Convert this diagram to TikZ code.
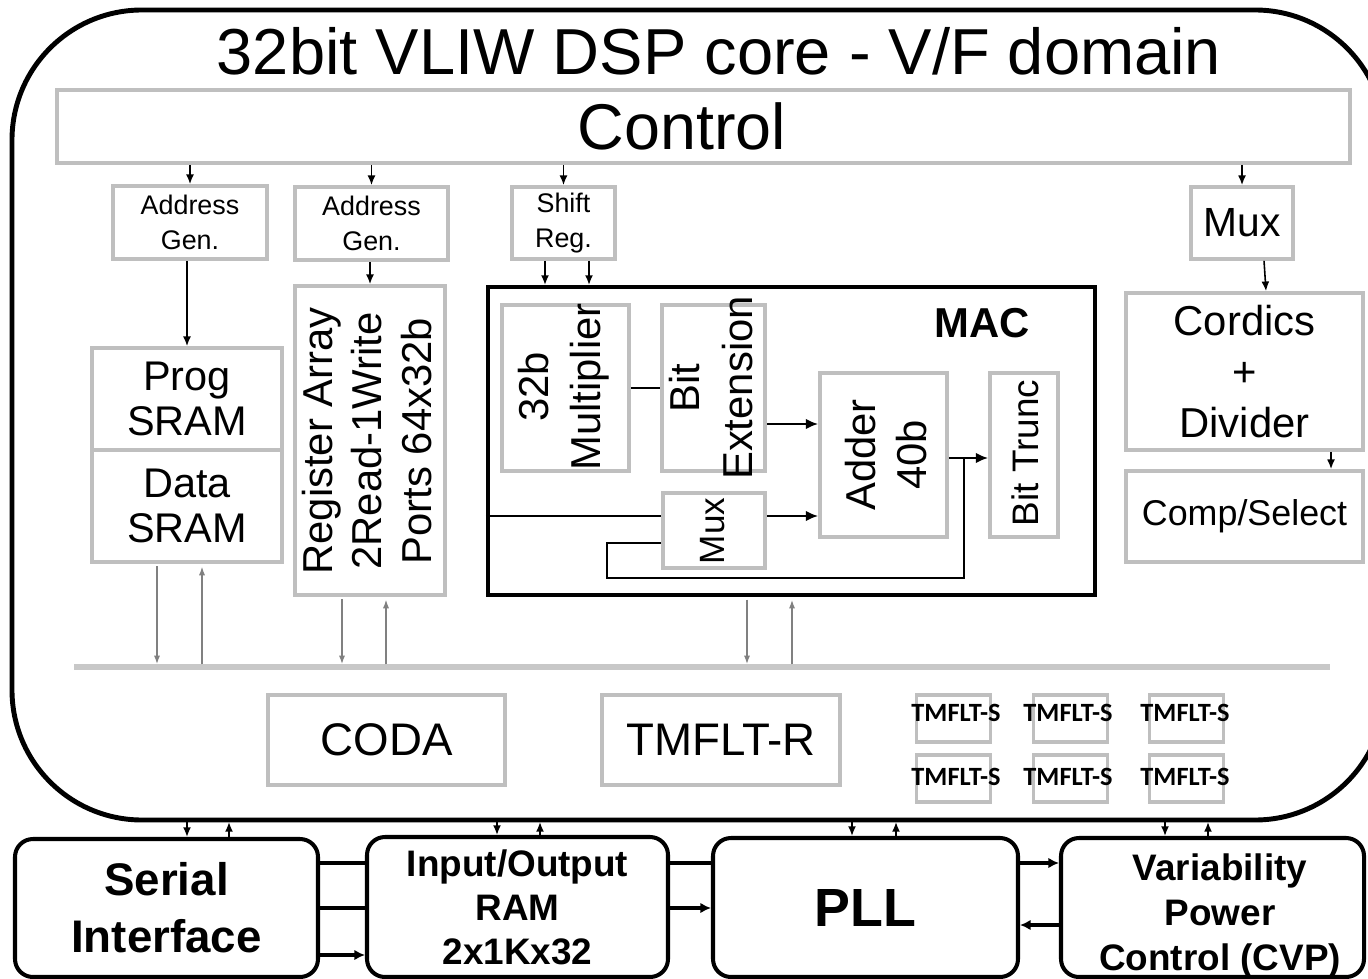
\documentclass[tikz,border=0pt]{standalone}
\usepackage{fontspec}
\setmainfont{Liberation Sans}
\newfontfamily\calibfam{Carlito}
\usetikzlibrary{arrows.meta,calc}
\newcommand\myfs[2]{\fontsize{#1pt}{#2pt}\selectfont}
\definecolor{boxgray}{RGB}{191,191,191}
\definecolor{busgray}{RGB}{200,200,200}
\definecolor{arrgray}{RGB}{128,128,128}
\begin{document}
\begin{tikzpicture}[x=0.02cm,y=-0.02cm,
  wh/.style 2 args={minimum width=#1*0.02cm, minimum height=#2*0.02cm},
  gbox/.style={draw=boxgray, line width=2.1pt, inner sep=0pt, fill=white},
  bbox/.style={draw=black, line width=2.3pt, rounded corners=0.36cm, inner sep=0pt},
  txt/.style={inner sep=0pt},
  arr/.style={line width=0.9pt, -{Latex[length=5.5pt,width=4.5pt]}},
  marr/.style={line width=1.2pt, -{Latex[length=7pt,width=6pt]}},
  mline/.style={line width=1.2pt},
  barr/.style={line width=2pt, -{Latex[length=6pt,width=6pt]}},
  bline/.style={line width=2pt},
  garr/.style={draw=arrgray, line width=0.9pt, shorten <=1.5pt, shorten >=1.5pt, -{Latex[length=5pt,width=3.5pt]}},
]
\useasboundingbox (0,0) rectangle (1368,979);
\clip (0,0) rectangle (1368,979);
\fill[white] (0,0) rectangle (1368,979);

% outer V/F domain
\draw[line width=2.8pt, rounded corners=2.6cm] (12,10) rectangle (1385,820);
\node[txt, anchor=base, font=\myfs{37}{40}] (title) at (719,75) {32bit VLIW DSP core - V/F domain};

% control
\node[gbox, wh={1293}{73}] (control) at (703.5,126.5) {};
\node[txt, font=\myfs{36.8}{40}] (controltxt) at (682,126) {Control};

% small boxes
\node[gbox, wh={154}{73}, align=center, font=\myfs{15.3}{19.8}] (ag1) at (190,222.5) {Address\\Gen.};
\node[gbox, wh={153}{73}, align=center, font=\myfs{15.3}{19.8}] (ag2) at (371.5,223.5) {Address\\Gen.};
\node[gbox, wh={103}{72}, align=center, font=\myfs{15.3}{19.8}] (shift) at (563.5,223) {Shift\\Reg.};
\node[gbox, wh={102}{72}, font=\myfs{23.2}{28}] (muxr) at (1242,223) {Mux};

% memories
\node[gbox, wh={190}{102}, align=center, font=\myfs{23.6}{25.5}] (prog) at (187,399) {Prog\\SRAM};
\node[gbox, wh={190}{112}, align=center, font=\myfs{23.6}{25.5}] (data) at (187,506) {Data\\SRAM};
\node[gbox, wh={150}{309}] (reg) at (370,440.5) {};
\node[txt, rotate=90, align=center, font=\myfs{23.8}{28.3}] (regtxt) at (367,441) {Register Array\\2Read-1Write\\Ports 64x32b};

% MAC
\node[draw, line width=2.3pt, inner sep=0pt, wh={607}{308}] (mac) at (791.5,441) {};
\node[txt, font=\bfseries\myfs{23.8}{28}] (mactxt) at (982,323) {MAC};
\node[gbox, wh={127}{166}] (mult) at (565.5,388) {};
\node[txt, rotate=90, align=center, font=\myfs{23.8}{29.5}] (multtxt) at (564,387) {32b\\Multiplier};
\node[gbox, wh={103}{166}] (bitext) at (713.5,388) {};
\node[txt, rotate=90, align=center, font=\myfs{23.8}{30}] (bittxt) at (711,388) {Bit\\Extension};
\node[gbox, wh={127}{164}] (adder) at (883.5,455) {};
\node[txt, rotate=90, align=center, font=\myfs{23.8}{29.5}] (addtxt) at (886,455) {Adder\\40b};
\node[gbox, wh={102}{75}] (muxm) at (714,530.5) {};
\node[txt, rotate=90, font=\myfs{20}{22}] (muxmtxt) at (713,531) {Mux};
\node[gbox, wh={68}{164}] (trunc) at (1024,455) {};
\node[txt, rotate=90, font=\myfs{21}{24}] (trunctxt) at (1025,453) {Bit Trunc};

% cordics
\node[gbox, wh={237}{157}, align=center, font=\myfs{23.8}{29}] (cord) at (1244.5,371.5) {Cordics\\+\\Divider};
\node[gbox, wh={237}{91}, font=\myfs{20.4}{24}] (comp) at (1244.5,516.5) {Comp/Select};

% control arrows
\draw[arr] (ag1.north |- control.south) -- (ag1.north);
\draw[arr] (ag2.north |- control.south) -- (ag2.north);
\draw[arr] (shift.north |- control.south) -- (shift.north);
\draw[arr] (muxr.north |- control.south) -- (muxr.north);
\draw[arr] (prog.north |- ag1.south) -- (prog.north);
\draw[arr] (reg.north |- ag2.south) -- (reg.north);
\coordinate (sr1) at (545,0);
\coordinate (sr2) at (589,0);
\draw[arr] (sr1 |- shift.south) -- (sr1 |- mac.north);
\draw[arr] (sr2 |- shift.south) -- (sr2 |- mac.north);
\draw[arr] ($(muxr.south)+(22,0)$) -- ($(cord.north)+(21.5,0)$);
\coordinate (cs) at (1331,0);
\draw[arr] (cs |- cord.south) -- (cs |- comp.north);

% MAC internals
\coordinate (y424) at (0,424);
\coordinate (y516) at (0,516);
\coordinate (lp1) at (607,543);
\coordinate (lp2) at (607,578);
\coordinate (jn) at (964,458);
\draw[mline] (mult.east) -- (bitext.west);
\draw[marr] (bitext.east |- y424) -- (adder.west |- y424);
\draw[marr] (muxm.east |- y516) -- (adder.west |- y516);
\draw[mline] (mac.west |- y516) -- (muxm.west |- y516);
\draw[mline] (muxm.west |- lp1) -- (lp1) -- (lp2) -| (jn);
\draw[marr] (adder.east |- jn) -- (trunc.west |- jn);

% bus
\coordinate (busL) at (74,667);
\coordinate (busR) at (1330,667);
\draw[busgray, line width=3.4pt] (busL) -- (busR);
\coordinate (g1) at (157,667);
\coordinate (g2) at (202,667);
\coordinate (g3) at (342,667);
\coordinate (g4) at (386,667);
\coordinate (g5) at (747,667);
\coordinate (g6) at (792,667);
\draw[garr] (g1 |- data.south) -- (g1);
\draw[garr] (g2) -- (g2 |- data.south);
\draw[garr] (g3 |- reg.south) -- (g3);
\draw[garr] (g4) -- (g4 |- reg.south);
\draw[garr] (g5 |- mac.south) -- (g5);
\draw[garr] (g6) -- (g6 |- mac.south);

% lower gray blocks
\node[gbox, wh={237}{90}, font=\myfs{26}{30}] (coda) at (386.5,740) {CODA};
\node[gbox, wh={238}{90}, font=\myfs{26}{30}] (tmr) at (721,740) {TMFLT-R};
\foreach \r/\by/\ty in {1/718.5/713, 2/778.5/777}{
  \foreach \c/\bx/\tx in {1/953.5/956, 2/1070.5/1068, 3/1186.5/1185}{
    \node[gbox, line width=1.8pt, wh={74}{47}] (ts\r\c) at (\bx,\by) {};
    \node[txt, font=\calibfam\bfseries\myfs{15}{17}] (tst\r\c) at (\tx,\ty) {TMFLT-S};
  }
}

% bottom blocks
\node[bbox, wh={303}{138}, align=center, font=\bfseries\myfs{26}{32.3}] (serial) at (166.5,908) {Serial\\Interface};
\node[bbox, wh={301}{140}, align=center, font=\bfseries\myfs{21}{25}] (io) at (517.5,907) {Input/Output\\RAM\\2x1Kx32};
\node[bbox, wh={305}{139}, font=\bfseries\myfs{30.6}{34}] (pll) at (865.5,907.5) {PLL};
\node[bbox, wh={303}{139}] (cvp) at (1212.5,907.5) {};
\node[txt, align=center, font=\bfseries\myfs{21}{25.5}] (cvptxt) at (1220,916) {Variability\\Power\\Control (CVP)};

% outer <-> bottom blocks
\coordinate (ob1) at (187,822);
\coordinate (ob2) at (229,822);
\coordinate (ob3) at (497,822);
\coordinate (ob4) at (540,822);
\coordinate (ob5) at (852,822);
\coordinate (ob6) at (896,822);
\coordinate (ob7) at (1165,822);
\coordinate (ob8) at (1208,822);
\draw[arr] (ob1) -- (ob1 |- serial.north);
\draw[arr] (ob2 |- serial.north) -- (ob2);
\draw[arr] (ob3) -- (ob3 |- io.north);
\draw[arr] (ob4 |- io.north) -- (ob4);
\draw[arr] (ob5) -- (ob5 |- pll.north);
\draw[arr] (ob6 |- pll.north) -- (ob6);
\draw[arr] (ob7) -- (ob7 |- cvp.north);
\draw[arr] (ob8 |- cvp.north) -- (ob8);

% block connectors
\coordinate (h1) at (0,863);
\coordinate (h2) at (0,908);
\coordinate (h3) at (0,955);
\coordinate (h4) at (0,925);
\draw[bline] (serial.east |- h1) -- (io.west |- h1);
\draw[bline] (serial.east |- h2) -- (io.west |- h2);
\draw[barr] (serial.east |- h3) -- (io.west |- h3);
\draw[bline] (io.east |- h1) -- (pll.west |- h1);
\draw[barr] (io.east |- h2) -- (pll.west |- h2);
\draw[barr] (pll.east |- h1) -- (cvp.west |- h1);
\draw[barr] (cvp.west |- h4) -- (pll.east |- h4);
\end{tikzpicture}
\end{document}
